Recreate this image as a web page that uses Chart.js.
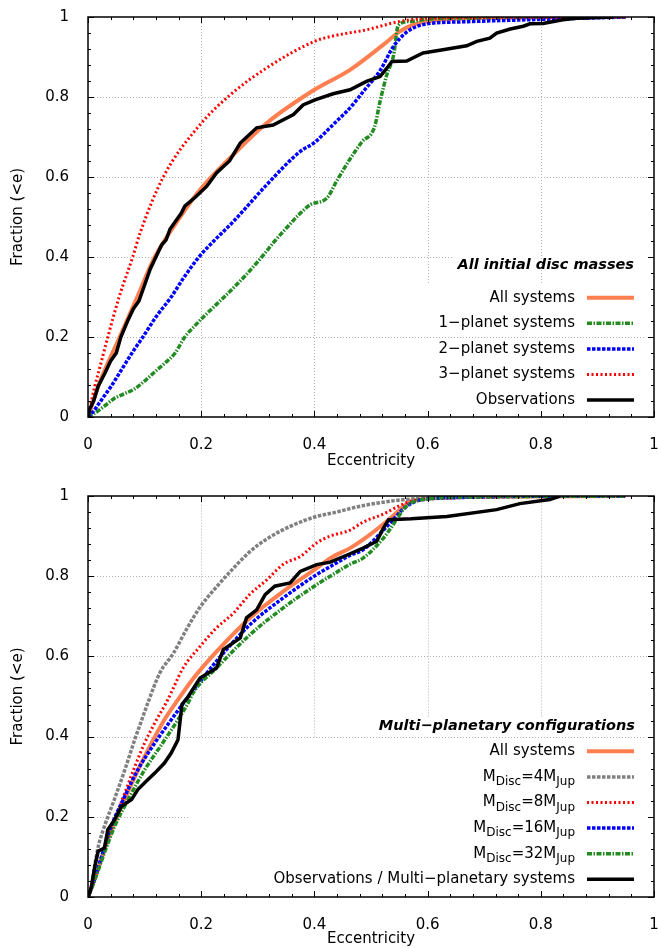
<!DOCTYPE html>
<html>
<head>
<meta charset="utf-8">
<script src="https://cdn.jsdelivr.net/npm/chart.js@4.4.1/dist/chart.umd.min.js"></script>
<style>
  body { margin: 0; background: #fff; }
  canvas { position: absolute; left: 0; }
  #topChart { top: 0; }
  #bottomChart { top: 470px; }
</style>
</head>
<body>
<canvas id="topChart" width="659" height="470"></canvas>
<canvas id="bottomChart" width="659" height="478"></canvas>
<script>
// ---- top panel: all initial disc masses ----
const allSysE = [0, 0.018, 0.056, 0.087, 0.118, 0.163, 0.198, 0.257, 0.316, 0.4, 0.463, 0.522, 0.551, 0.575, 0.62, 0.7, 0.95];
const allSysF = [0, 0.077, 0.2, 0.3, 0.4, 0.5, 0.568, 0.656, 0.735, 0.818, 0.868, 0.931, 0.964, 0.981, 0.993, 0.998, 1];

const onePlE = [0, 0.01, 0.029, 0.045, 0.064, 0.082, 0.1, 0.119, 0.136, 0.154, 0.171, 0.188, 0.206, 0.242, 0.277, 0.31, 0.33, 0.351, 0.372, 0.393, 0.422, 0.439, 0.463, 0.484, 0.506, 0.516, 0.528, 0.54, 0.548, 0.569, 0.604, 0.7, 0.95];
const onePlF = [0, 0.008, 0.027, 0.045, 0.058, 0.07, 0.09, 0.114, 0.135, 0.16, 0.2, 0.227, 0.253, 0.302, 0.352, 0.405, 0.44, 0.473, 0.505, 0.531, 0.547, 0.589, 0.645, 0.688, 0.724, 0.789, 0.856, 0.905, 0.979, 0.989, 0.995, 0.998, 1];

const twoPlE = [0, 0.01, 0.02, 0.03, 0.041, 0.06, 0.08, 0.097, 0.12, 0.147, 0.17, 0.196, 0.216, 0.257, 0.316, 0.375, 0.4, 0.433, 0.463, 0.49, 0.516, 0.539, 0.563, 0.592, 0.663, 0.8, 0.95];
const twoPlF = [0, 0.015, 0.035, 0.055, 0.077, 0.12, 0.165, 0.2, 0.25, 0.3, 0.35, 0.4, 0.431, 0.489, 0.581, 0.664, 0.686, 0.731, 0.773, 0.82, 0.866, 0.925, 0.962, 0.981, 0.988, 0.994, 1];

const threePlE = [0, 0.003, 0.012, 0.022, 0.035, 0.055, 0.079, 0.092, 0.133, 0.198, 0.251, 0.316, 0.4, 0.428, 0.492, 0.551, 0.6, 0.7, 0.95];
const threePlF = [0, 0.02, 0.077, 0.13, 0.2, 0.3, 0.4, 0.46, 0.6, 0.731, 0.805, 0.873, 0.939, 0.951, 0.968, 0.989, 0.997, 0.999, 1];

const obsE = [0, 0.003, 0.01, 0.018, 0.03, 0.04, 0.05, 0.058, 0.07, 0.08, 0.09, 0.1, 0.11, 0.12, 0.13, 0.138, 0.145, 0.155, 0.165, 0.171, 0.19, 0.21, 0.227, 0.25, 0.269, 0.298, 0.327, 0.363, 0.38, 0.401, 0.433, 0.463, 0.492, 0.516, 0.528, 0.537, 0.563, 0.592, 0.627, 0.669, 0.687, 0.71, 0.722, 0.746, 0.769, 0.781, 0.804, 0.839, 0.863, 0.928];
const obsF = [0, 0.02, 0.04, 0.077, 0.11, 0.14, 0.16, 0.2, 0.24, 0.27, 0.29, 0.33, 0.37, 0.4, 0.43, 0.443, 0.47, 0.49, 0.51, 0.527, 0.55, 0.577, 0.61, 0.64, 0.685, 0.723, 0.73, 0.756, 0.78, 0.793, 0.808, 0.818, 0.839, 0.851, 0.872, 0.889, 0.89, 0.91, 0.918, 0.928, 0.939, 0.947, 0.96, 0.97, 0.977, 0.983, 0.984, 0.993, 0.997, 1];

// ---- bottom panel: multi-planetary configurations ----
const allMultiE = [0, 0.012, 0.035, 0.059, 0.083, 0.106, 0.135, 0.159, 0.186, 0.227, 0.286, 0.345, 0.404, 0.428, 0.463, 0.486, 0.522, 0.545, 0.563, 0.6, 0.7, 0.95];
const allMultiF = [0, 0.045, 0.143, 0.226, 0.301, 0.367, 0.442, 0.492, 0.545, 0.612, 0.696, 0.762, 0.82, 0.845, 0.87, 0.891, 0.93, 0.958, 0.98, 0.994, 0.998, 1];

const m4E = [0, 0.006, 0.012, 0.018, 0.029, 0.047, 0.065, 0.082, 0.092, 0.106, 0.127, 0.151, 0.175, 0.198, 0.225, 0.257, 0.285, 0.316, 0.363, 0.404, 0.433, 0.486, 0.545, 0.6, 0.7, 0.95];
const m4F = [0, 0.026, 0.08, 0.125, 0.176, 0.245, 0.317, 0.39, 0.43, 0.485, 0.559, 0.608, 0.67, 0.723, 0.77, 0.82, 0.86, 0.893, 0.928, 0.949, 0.958, 0.976, 0.989, 0.995, 0.998, 1];

const m8E = [0, 0.012, 0.029, 0.047, 0.065, 0.083, 0.1, 0.118, 0.141, 0.168, 0.198, 0.227, 0.257, 0.286, 0.316, 0.345, 0.375, 0.404, 0.428, 0.463, 0.486, 0.522, 0.545, 0.575, 0.63, 0.7, 0.95];
const m8F = [0, 0.051, 0.118, 0.193, 0.259, 0.326, 0.384, 0.434, 0.492, 0.571, 0.625, 0.671, 0.708, 0.755, 0.791, 0.83, 0.849, 0.883, 0.9, 0.915, 0.935, 0.955, 0.972, 0.989, 0.994, 0.998, 1];

const m16E = [0, 0.008, 0.024, 0.041, 0.065, 0.088, 0.118, 0.141, 0.171, 0.18, 0.227, 0.286, 0.345, 0.404, 0.428, 0.463, 0.486, 0.522, 0.545, 0.557, 0.587, 0.65, 0.75, 0.95];
const m16F = [0, 0.03, 0.101, 0.176, 0.251, 0.317, 0.384, 0.43, 0.488, 0.504, 0.588, 0.679, 0.746, 0.804, 0.824, 0.852, 0.866, 0.915, 0.95, 0.968, 0.99, 0.996, 0.999, 1];

const m32E = [0, 0.01, 0.029, 0.047, 0.071, 0.1, 0.13, 0.159, 0.177, 0.186, 0.227, 0.286, 0.345, 0.404, 0.428, 0.463, 0.486, 0.522, 0.534, 0.563, 0.604, 0.7, 0.95];
const m32F = [0, 0.035, 0.11, 0.176, 0.243, 0.317, 0.38, 0.442, 0.484, 0.51, 0.571, 0.654, 0.721, 0.779, 0.8, 0.83, 0.845, 0.895, 0.918, 0.975, 0.993, 0.998, 1];

const obsMultiE = [0, 0.003, 0.006, 0.012, 0.018, 0.029, 0.035, 0.047, 0.059, 0.077, 0.088, 0.106, 0.118, 0.135, 0.147, 0.159, 0.166, 0.175, 0.198, 0.227, 0.239, 0.269, 0.28, 0.298, 0.313, 0.33, 0.357, 0.375, 0.404, 0.428, 0.463, 0.486, 0.51, 0.522, 0.531, 0.571, 0.634, 0.722, 0.763, 0.816, 0.834];
const obsMultiF = [0, 0.01, 0.026, 0.076, 0.114, 0.122, 0.168, 0.193, 0.226, 0.243, 0.268, 0.293, 0.309, 0.334, 0.359, 0.392, 0.48, 0.496, 0.546, 0.571, 0.617, 0.646, 0.696, 0.716, 0.754, 0.775, 0.783, 0.812, 0.829, 0.835, 0.856, 0.87, 0.887, 0.92, 0.941, 0.943, 0.949, 0.966, 0.981, 0.991, 1];

const FONT = 'DejaVu Sans';

function series(label, xs, ys, color, width, dash, order, smooth) {
  return {
    label: label,
    data: xs.map((x, i) => ({ x: x, y: ys[i] })),
    borderColor: color,
    borderWidth: width,
    borderDash: dash,
    order: order,
    pointRadius: 0,
    fill: false,
    cubicInterpolationMode: smooth ? 'monotone' : 'default',
    tension: 0
  };
}

function line(ctx, x1, y1, x2, y2) {
  ctx.beginPath();
  ctx.moveTo(x1, y1);
  ctx.lineTo(x2, y2);
  ctx.stroke();
}

// label text uses _{..} for subscripts
function drawLabel(ctx, text, right, y) {
  const parts = text.split(/(_\{[^}]*\})/).filter(Boolean).map(p =>
    p.startsWith('_{') ? { t: p.slice(2, -1), sub: true } : { t: p, sub: false });
  let w = 0;
  parts.forEach(p => {
    ctx.font = (p.sub ? '12px ' : '15px ') + '"' + FONT + '"';
    p.w = ctx.measureText(p.t).width;
    w += p.w;
  });
  let x = right - w;
  ctx.textAlign = 'left';
  ctx.textBaseline = 'middle';
  parts.forEach(p => {
    ctx.font = (p.sub ? '12px ' : '15px ') + '"' + FONT + '"';
    ctx.fillText(p.t, x, p.sub ? y + 5 : y);
    x += p.w;
  });
}

// gnuplot-like frame: dotted grid, inward ticks on all sides, key
const frame = {
  id: 'frame',
  beforeDatasetsDraw(chart, args, opts) {
    const { ctx, scales: { x, y } } = chart;
    ctx.save();
    ctx.strokeStyle = '#b4b4b4';
    ctx.lineWidth = 1;
    ctx.setLineDash([1, 2]);
    opts.vGrid.forEach(([v, a, b]) => {
      const px = Math.round(x.getPixelForValue(v)) + 0.5;
      line(ctx, px, y.getPixelForValue(a), px, y.getPixelForValue(b));
    });
    opts.hGrid.forEach(([v, a, b]) => {
      const py = Math.round(y.getPixelForValue(v)) + 0.5;
      line(ctx, x.getPixelForValue(a), py, x.getPixelForValue(b), py);
    });
    ctx.restore();
  },
  afterDatasetsDraw(chart, args, opts) {
    const { ctx, chartArea: a, scales: { x, y } } = chart;
    ctx.save();
    ctx.strokeStyle = '#000';
    ctx.lineWidth = 1.5;
    ctx.strokeRect(a.left, a.top, a.right - a.left, a.bottom - a.top);
    ctx.lineWidth = 1;
    for (let i = 0; i <= 25; i++) {
      const v = i * 0.04;
      const len = i % 5 === 0 ? 6 : 3;
      const px = Math.round(x.getPixelForValue(v)) + 0.5;
      const py = Math.round(y.getPixelForValue(v)) + 0.5;
      line(ctx, px, a.bottom, px, a.bottom - len);
      line(ctx, px, a.top, px, a.top + len);
      line(ctx, a.left, py, a.left + len, py);
      line(ctx, a.right, py, a.right - len, py);
    }

    // key
    const k = opts.key;
    ctx.fillStyle = '#000';
    ctx.font = 'bold italic 14.5px "' + FONT + '"';
    ctx.textAlign = 'right';
    ctx.textBaseline = 'middle';
    ctx.fillText(k.title, k.titleRight, k.titleY);
    chart.data.datasets.forEach((d, i) => {
      const ry = k.rowY + i * k.rowStep;
      ctx.fillStyle = '#000';
      drawLabel(ctx, d.label, k.textRight, ry);
      ctx.strokeStyle = d.borderColor;
      ctx.lineWidth = d.borderWidth;
      ctx.setLineDash(d.borderDash || []);
      line(ctx, k.sample[0], ry, k.sample[1], ry);
      ctx.setLineDash([]);
    });
    ctx.restore();
  }
};

const tickText = v => String(Math.round(v * 10) / 10);

function makeChart(id, datasets, frameOpts, padTop, xAxisH) {
  const tickFont = { family: FONT, size: 15 };
  return new Chart(document.getElementById(id), {
    type: 'line',
    data: { datasets: datasets },
    options: {
      responsive: false,
      animation: false,
      layout: { padding: { top: padTop, right: 5, left: 0, bottom: 0 } },
      plugins: {
        legend: { display: false },
        tooltip: { enabled: false },
        frame: frameOpts
      },
      scales: {
        x: {
          type: 'linear', min: 0, max: 1,
          ticks: { stepSize: 0.2, padding: 11, color: '#000', font: tickFont, maxRotation: 0, callback: tickText },
          grid: { display: false },
          border: { display: false },
          title: { display: true, text: 'Eccentricity', color: '#000', font: tickFont, padding: { top: 0, bottom: 0 } },
          afterFit: s => { s.height = xAxisH; s.paddingLeft = 0; s.paddingRight = 0; }
        },
        y: {
          type: 'linear', min: 0, max: 1,
          ticks: { stepSize: 0.2, padding: 11, color: '#000', font: tickFont, callback: tickText },
          grid: { display: false },
          border: { display: false },
          title: { display: true, text: 'Fraction (<e)', color: '#000', font: tickFont, padding: { top: 9, bottom: 0 } },
          afterFit: s => { s.width = 88; s.paddingTop = 0; s.paddingBottom = 0; }
        }
      }
    },
    plugins: [frame]
  });
}

const ORANGE = '#ff7f50', GREEN = '#228b22', BLUE = '#0000ff', RED = '#ff0000', GREY = '#808080';
const DOT = [2, 2.5], DASH = [3.5, 1.5], DASHDOT = [5, 1.5, 1.5, 1.5];

makeChart('topChart', [
  series('All systems', allSysE, allSysF, ORANGE, 4, [], 4, true),
  series('1\u2212planet systems', onePlE, onePlF, GREEN, 3.5, DASHDOT, 3, true),
  series('2\u2212planet systems', twoPlE, twoPlF, BLUE, 3.5, DASH, 2, true),
  series('3\u2212planet systems', threePlE, threePlF, RED, 3, DOT, 1, true),
  series('Observations', obsE, obsF, '#000', 3.5, [], 0, false)
], {
  vGrid: [[0.2, 0, 1], [0.4, 0, 1], [0.6, 0.335, 1], [0.8, 0.335, 1]],
  hGrid: [[0.2, 0, 0.984], [0.4, 0, 0.645], [0.6, 0, 1], [0.8, 0, 1]],
  key: { title: 'All initial disc masses', titleRight: 634, titleY: 265, rowY: 297.7, rowStep: 25.6, textRight: 575, sample: [587, 634] }
}, 17, 53);

makeChart('bottomChart', [
  series('All systems', allMultiE, allMultiF, ORANGE, 4, [], 5, true),
  series('M_{Disc}=4M_{Jup}', m4E, m4F, GREY, 3.5, DASH, 4, true),
  series('M_{Disc}=8M_{Jup}', m8E, m8F, RED, 3, DOT, 3, true),
  series('M_{Disc}=16M_{Jup}', m16E, m16F, BLUE, 3.5, DASH, 2, true),
  series('M_{Disc}=32M_{Jup}', m32E, m32F, GREEN, 3.5, DASHDOT, 1, true),
  series('Observations / Multi\u2212planetary systems', obsMultiE, obsMultiF, '#000', 3.5, [], 0, false)
], {
  vGrid: [[0.2, 0.4, 1], [0.4, 0.4, 1], [0.6, 0.45, 1], [0.8, 0.45, 1]],
  hGrid: [[0.2, 0, 0.177], [0.4, 0, 0.984], [0.6, 0, 1], [0.8, 0, 1]],
  key: { title: 'Multi\u2212planetary configurations', titleRight: 635, titleY: 256, rowY: 281.3, rowStep: 25.6, textRight: 575, sample: [587, 634] }
}, 26, 51);
</script>
</body>
</html>
